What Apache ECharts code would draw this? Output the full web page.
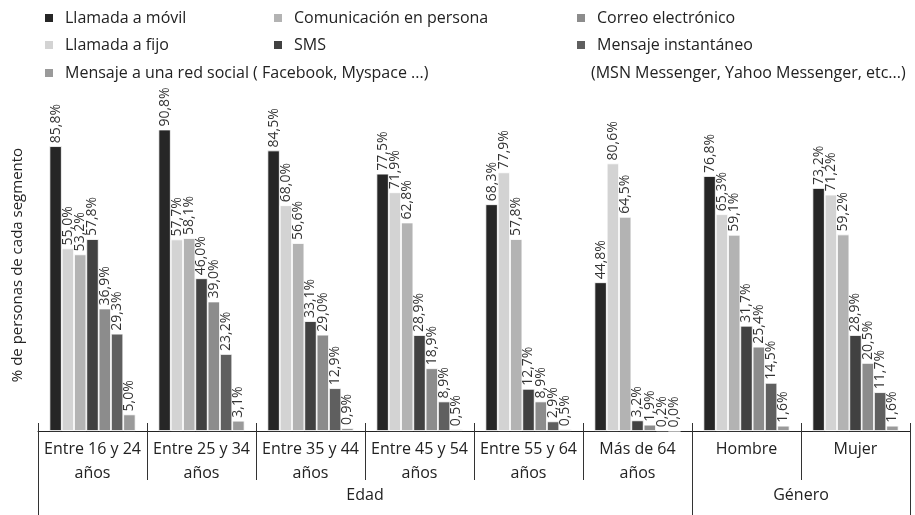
<!DOCTYPE html>
<html>
<head>
<meta charset="utf-8">
<script src="https://cdn.jsdelivr.net/npm/echarts@6/dist/echarts.min.js"></script>
<style>html,body{margin:0;padding:0;background:#fff}#c{width:915px;height:515px}</style>
</head>
<body>
<div id="c"></div>
<script>
var categories = ['Entre 16 y 24\naños', 'Entre 25 y 34\naños', 'Entre 35 y 44\naños', 'Entre 45 y 54\naños', 'Entre 55 y 64\naños', 'Más de 64\naños', 'Hombre', 'Mujer'];
var superGroups = ['Edad', 'Género'];
var superGroupCenters = [3, 7];
var superGroupBounds = [0, 6, 8];
var seriesNames = ['Llamada a móvil', 'Llamada a fijo', 'Comunicación en persona', 'SMS', 'Correo electrónico', 'Mensaje instantáneo', 'Mensaje a una red social ( Facebook, Myspace ...)'];
var instantaneoNote = '(MSN Messenger, Yahoo Messenger, etc...)';
var movil = [85.8, 90.8, 84.5, 77.5, 68.3, 44.8, 76.8, 73.2];
var fijo = [55.0, 57.7, 68.0, 71.9, 77.9, 80.6, 65.3, 71.2];
var persona = [53.2, 58.1, 56.6, 62.8, 57.8, 64.5, 59.1, 59.2];
var sms = [57.8, 46.0, 33.1, 28.9, 12.7, 3.2, 31.7, 28.9];
var correo = [36.9, 39.0, 29.0, 18.9, 8.9, 1.9, 25.4, 20.5];
var instantaneo = [29.3, 23.2, 12.9, 8.9, 2.9, 0.2, 14.5, 11.7];
var redSocial = [5.0, 3.1, 0.9, 0.5, 0.5, 0.0, 1.6, 1.6];

var values = [movil, fijo, persona, sms, correo, instantaneo, redSocial];
var colors = ['#262626', '#d3d3d3', '#b3b3b3', '#414141', '#8c8c8c', '#5f5f5f', '#9a9a9a'];
var FONT = 'Open Sans';

var chart = echarts.init(document.getElementById('c'));

// legend layout: [seriesIndex, left, top]
var legendLayout = [
  [0, 43, 8], [1, 43, 35], [6, 43, 63],
  [2, 272, 8], [3, 272, 35],
  [4, 575, 8], [5, 575, 35]
];
var legends = legendLayout.map(function (l) {
  return {
    data: [seriesNames[l[0]]],
    left: l[1], top: l[2], padding: 0,
    icon: 'rect', itemWidth: 10, itemHeight: 10,
    selectedMode: false,
    textStyle: { fontFamily: FONT, fontSize: 16, color: '#222', lineHeight: 20, padding: [0, 0, 0, 6] }
  };
});

var series = values.map(function (v, i) {
  return {
    name: seriesNames[i],
    type: 'bar',
    data: v,
    xAxisIndex: 0,
    barGap: '0%',
    barCategoryGap: '21%',
    itemStyle: { color: colors[i], borderColor: '#fff', borderWidth: 0.8 },
    label: {
      show: true, position: 'top', rotate: 90, align: 'left', verticalAlign: 'middle',
      distance: 3, fontFamily: FONT, fontSize: 14, color: '#333',
      formatter: function (p) { return p.value.toFixed(1).replace('.', ',') + '%'; }
    }
  };
});

chart.setOption({
  animation: false,
  color: colors,
  title: {
    text: instantaneoNote, left: 591, top: 63, padding: 0,
    textStyle: { fontFamily: FONT, fontSize: 16, fontWeight: 'normal', color: '#222', lineHeight: 20 }
  },
  legend: legends,
  grid: { left: 38, right: 5, top: 99, bottom: 84 },
  yAxis: {
    type: 'value', min: 0, max: 100,
    axisLine: { show: false }, axisTick: { show: false }, axisLabel: { show: false }, splitLine: { show: false },
    name: '% de personas de cada segmento', nameLocation: 'middle', nameGap: 13,
    nameTextStyle: { fontFamily: FONT, fontSize: 15, color: '#222' }
  },
  xAxis: [
    {
      type: 'category', data: categories, position: 'bottom',
      axisLine: { lineStyle: { color: '#222', width: 1 } },
      axisTick: { show: true, length: 49, lineStyle: { color: '#333' } },
      axisLabel: { fontFamily: FONT, fontSize: 16, color: '#222', lineHeight: 24, margin: 6, interval: 0 }
    },
    {
      type: 'value', min: 0, max: 8, position: 'bottom',
      axisLine: { show: false }, splitLine: { show: false },
      axisTick: { show: true, length: 84, customValues: superGroupBounds, lineStyle: { color: '#333' } },
      axisLabel: {
        customValues: superGroupCenters, fontFamily: FONT, fontSize: 16, color: '#222', lineHeight: 24, margin: 52,
        formatter: function (v) { return superGroups[superGroupCenters.indexOf(v)]; }
      }
    },
    {
      type: 'category', data: categories, position: 'bottom',
      axisLine: { show: false }, axisLabel: { show: false },
      axisTick: { show: true, inside: true, length: 8, lineStyle: { color: '#333' } }
    }
  ],
  series: series
});
</script>
</body>
</html>
